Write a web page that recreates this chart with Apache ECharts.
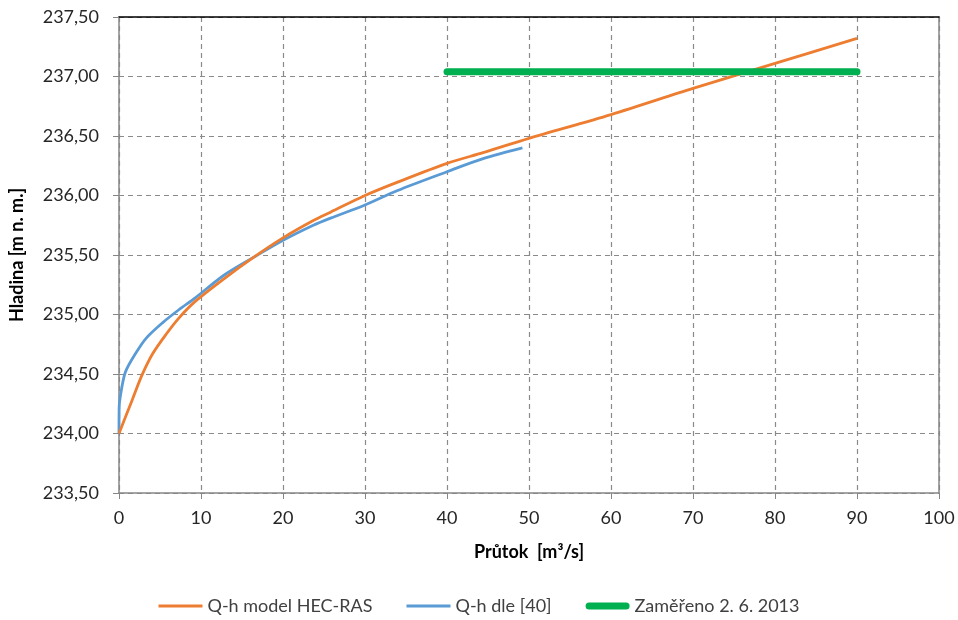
<!DOCTYPE html>
<html><head><meta charset="utf-8">
<script src="https://cdn.jsdelivr.net/npm/echarts@6/dist/echarts.min.js"></script>
<style>html,body{margin:0;padding:0;background:#fff}#c{width:958px;height:620px}</style>
</head><body><div id="c"></div>
<script>
const orangeQ = [0, 0.8, 1.6, 2.8, 4.1, 5.7, 7.3, 9.3, 12.8, 16.4, 19.9, 23.7, 25.8, 30, 33.9, 40, 44.4, 50, 60, 70, 80, 90];
const orangeH = [234.00, 234.14, 234.28, 234.49, 234.67, 234.83, 234.97, 235.11, 235.30, 235.48, 235.64, 235.79, 235.86, 236.00, 236.11, 236.27, 236.36, 236.48, 236.68, 236.90, 237.11, 237.32];
const blueQ = [0, 0.02, 0.3, 0.8, 2.0, 3.3, 5.3, 7.3, 9.3, 12.8, 16.4, 19.9, 23.7, 25.8, 30, 33.9, 40, 44.4, 49.2];
const blueH = [234.00, 234.22, 234.37, 234.52, 234.67, 234.80, 234.93, 235.04, 235.14, 235.33, 235.48, 235.62, 235.75, 235.81, 235.92, 236.04, 236.20, 236.31, 236.40];
const greenQ = [40, 90];
const greenH = [237.04, 237.04];
const seriesNames = ['Q-h model HEC-RAS', 'Q-h dle [40]', 'Zaměřeno 2. 6. 2013'];

const zip = (a, b) => a.map((v, i) => [v, b[i]]);
const FONT = 'Lato';
const thinIcon = 'path://M0,0 L44,0 L44,3 L0,3 Z';
const thickIcon = 'path://M3.5,0 L40.5,0 A3.5,3.5 0 0 1 40.5,7 L3.5,7 A3.5,3.5 0 0 1 3.5,0 Z';
const chart = echarts.init(document.getElementById('c'));
chart.setOption({
  animation: false,
  textStyle: { fontFamily: FONT },
  grid: { left: 118, right: 19, top: 17, bottom: 127 },
  legend: {
    bottom: 0, left: 'center', itemWidth: 44, itemHeight: 14, itemGap: 34,
    textStyle: { fontFamily: FONT, fontSize: 18, color: '#404040' },
    data: [
      { name: seriesNames[0], icon: thinIcon },
      { name: seriesNames[1], icon: thinIcon },
      { name: seriesNames[2], icon: thickIcon }
    ]
  },
  xAxis: [{
    type: 'value', min: 0, max: 100, interval: 10,
    name: 'Průtok  [m³/s]', nameLocation: 'middle', nameGap: 50,
    nameTextStyle: { fontFamily: FONT, fontSize: 18, fontWeight: 'bold', color: '#000' },
    axisLine: { show: true, lineStyle: { color: '#868686', width: 1.5 } },
    axisTick: { show: true, length: 6, lineStyle: { color: '#868686' } },
    axisLabel: { fontSize: 18, color: '#262626', margin: 16 },
    splitLine: { show: true, lineStyle: { color: '#8a8a8a', type: [5, 4], width: 1.2 } }
  }, {
    type: 'value', min: 0, max: 100, position: 'top',
    axisLine: { show: true, onZero: false, lineStyle: { color: '#000', width: 1.5 } },
    axisTick: { show: false }, axisLabel: { show: false }, splitLine: { show: false }
  }],
  yAxis: [{
    type: 'value', min: 233.5, max: 237.5, interval: 0.5,
    name: 'Hladina [m n. m.]', nameLocation: 'middle', nameGap: 93, nameRotate: 90,
    nameTextStyle: { fontFamily: FONT, fontSize: 18, fontWeight: 'bold', color: '#000' },
    axisLine: { show: true, lineStyle: { color: '#868686', width: 1.5 } },
    axisTick: { show: true, length: 6, lineStyle: { color: '#868686' } },
    axisLabel: { fontSize: 18, color: '#262626', margin: 20,
      formatter: v => v.toFixed(2).replace('.', ',') },
    splitLine: { show: true, lineStyle: { color: '#8a8a8a', type: [5, 4], width: 1.2 } }
  }, {
    type: 'value', min: 233.5, max: 237.5, position: 'right',
    axisLine: { show: true, onZero: false, lineStyle: { color: '#868686', width: 1.5 } },
    axisTick: { show: false }, axisLabel: { show: false }, splitLine: { show: false }
  }],
  series: [
    { name: seriesNames[0], type: 'line', data: zip(orangeQ, orangeH), smooth: 0.3,
      showSymbol: false, symbol: 'none', color: '#ED7D31', lineStyle: { width: 2.8, color: '#ED7D31' }, z: 3 },
    { name: seriesNames[1], type: 'line', data: zip(blueQ, blueH), smooth: 0.3,
      showSymbol: false, symbol: 'none', color: '#5B9BD5', lineStyle: { width: 2.8, color: '#5B9BD5' }, z: 2 },
    { name: seriesNames[2], type: 'line', data: zip(greenQ, greenH),
      showSymbol: false, symbol: 'none', color: '#00B050', lineStyle: { width: 7, color: '#00B050', cap: 'round' }, z: 4 }
  ]
});
</script></body></html>
